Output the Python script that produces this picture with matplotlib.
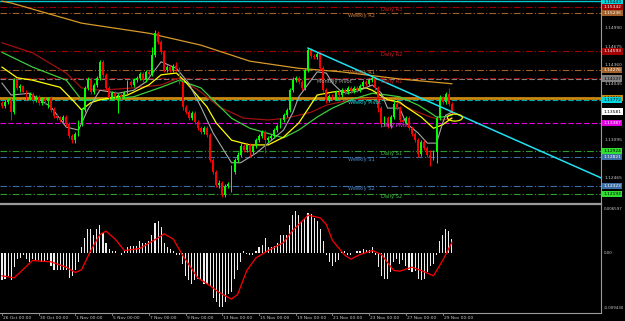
"""
EURUSD H4 chart with pivots, moving averages and MACD, MT4 style
saves out.png (625x321)
"""

import numpy as np
import matplotlib
matplotlib.use('Agg')
import matplotlib.pyplot as plt
from matplotlib.patches import Ellipse
from matplotlib.lines import Line2D

plt.rcParams['font.family'] = ['DejaVu Sans']

# ─── candles: bar 0 = 26 Oct 00:00, H4 ───
opens = [1.1373, 1.1367, 1.1374, 1.1378, 1.1357, 1.1411, 1.1398, 1.1401, 1.1391, 1.1381,
         1.1388, 1.1378, 1.1383, 1.1373, 1.1379, 1.1376, 1.1381, 1.1361, 1.1351, 1.1347,
         1.1344, 1.1349, 1.1337, 1.1317, 1.1310, 1.1320, 1.1337, 1.1361, 1.1398, 1.1411,
         1.1391, 1.1403, 1.1415, 1.1442, 1.1420, 1.1398, 1.1381, 1.1389, 1.1384, 1.1386,
         1.1383, 1.1389, 1.1408, 1.1403, 1.1411, 1.1415, 1.1421, 1.1411, 1.1425, 1.1421,
         1.1453, 1.1490, 1.1475, 1.1458, 1.1428, 1.1433, 1.1428, 1.1435, 1.1430, 1.1408,
         1.1366, 1.1357, 1.1347, 1.1356, 1.1341, 1.1330, 1.1324, 1.1330, 1.1319, 1.1277,
         1.1256, 1.1234, 1.1238, 1.1218, 1.1233, 1.1236, 1.1256, 1.1277, 1.1285, 1.1300,
         1.1293, 1.1302, 1.1290, 1.1300, 1.1310, 1.1317, 1.1324, 1.1310, 1.1314, 1.1317,
         1.1327, 1.1334, 1.1344, 1.1352, 1.1361, 1.1394, 1.1411, 1.1415, 1.1408, 1.1398,
         1.1428, 1.1462, 1.1452, 1.1450, 1.1455, 1.1431, 1.1394, 1.1378, 1.1384, 1.1381,
         1.1391, 1.1386, 1.1394, 1.1391, 1.1398, 1.1393, 1.1398, 1.1394, 1.1401, 1.1408,
         1.1405, 1.1411, 1.1415, 1.1398, 1.1364, 1.1337, 1.1347, 1.1334, 1.1349, 1.1371,
         1.1364, 1.1344, 1.1341, 1.1347, 1.1330, 1.1320, 1.1310, 1.1287, 1.1307, 1.1297,
         1.1285, 1.1280, 1.1290, 1.1347, 1.1381, 1.1374, 1.1388, 1.1371]
closes = [1.1367, 1.1374, 1.1378, 1.1357, 1.1411, 1.1398, 1.1401, 1.1391, 1.1381, 1.1388,
          1.1378, 1.1383, 1.1373, 1.1379, 1.1376, 1.1381, 1.1361, 1.1351, 1.1347, 1.1344,
          1.1349, 1.1337, 1.1317, 1.1310, 1.1320, 1.1337, 1.1361, 1.1398, 1.1411, 1.1391,
          1.1403, 1.1415, 1.1442, 1.1420, 1.1398, 1.1381, 1.1389, 1.1384, 1.1386, 1.1383,
          1.1389, 1.1408, 1.1403, 1.1411, 1.1415, 1.1421, 1.1411, 1.1425, 1.1421, 1.1453,
          1.1490, 1.1475, 1.1458, 1.1428, 1.1433, 1.1428, 1.1435, 1.1430, 1.1408, 1.1366,
          1.1357, 1.1347, 1.1356, 1.1341, 1.1330, 1.1324, 1.1330, 1.1319, 1.1277, 1.1256,
          1.1234, 1.1238, 1.1218, 1.1233, 1.1236, 1.1256, 1.1277, 1.1285, 1.1300, 1.1293,
          1.1302, 1.1290, 1.1300, 1.1310, 1.1317, 1.1324, 1.1310, 1.1314, 1.1317, 1.1327,
          1.1334, 1.1344, 1.1352, 1.1361, 1.1394, 1.1411, 1.1415, 1.1408, 1.1398, 1.1428,
          1.1462, 1.1452, 1.1450, 1.1455, 1.1431, 1.1394, 1.1378, 1.1384, 1.1381, 1.1391,
          1.1386, 1.1394, 1.1391, 1.1398, 1.1393, 1.1398, 1.1394, 1.1401, 1.1408, 1.1405,
          1.1411, 1.1415, 1.1398, 1.1364, 1.1337, 1.1347, 1.1334, 1.1349, 1.1371, 1.1364,
          1.1344, 1.1341, 1.1347, 1.1330, 1.1320, 1.1310, 1.1287, 1.1307, 1.1297, 1.1285,
          1.1280, 1.1290, 1.1347, 1.1381, 1.1374, 1.1388, 1.1371, 1.1357]
highs = [1.1376, 1.1378, 1.1381, 1.1381, 1.1415, 1.1415, 1.1405, 1.1403, 1.1394, 1.1391,
         1.1391, 1.1386, 1.1386, 1.1383, 1.1383, 1.1383, 1.1384, 1.1366, 1.1354, 1.1351,
         1.1352, 1.1352, 1.1341, 1.1320, 1.1324, 1.1344, 1.1364, 1.1401, 1.1416, 1.1415,
         1.1406, 1.1418, 1.1445, 1.1445, 1.1423, 1.1401, 1.1393, 1.1393, 1.1389, 1.1389,
         1.1393, 1.1411, 1.1411, 1.1415, 1.1418, 1.1425, 1.1425, 1.1428, 1.1428, 1.1467,
         1.1495, 1.1494, 1.1479, 1.1462, 1.1437, 1.1437, 1.1438, 1.1442, 1.1433, 1.1411,
         1.1369, 1.1361, 1.1359, 1.1359, 1.1344, 1.1334, 1.1334, 1.1334, 1.1322, 1.1280,
         1.1260, 1.1243, 1.1241, 1.1236, 1.1240, 1.1268, 1.1280, 1.1290, 1.1307, 1.1304,
         1.1305, 1.1305, 1.1304, 1.1314, 1.1320, 1.1327, 1.1327, 1.1317, 1.1320, 1.1330,
         1.1337, 1.1347, 1.1356, 1.1364, 1.1398, 1.1416, 1.1418, 1.1418, 1.1411, 1.1431,
         1.1465, 1.1465, 1.1455, 1.1458, 1.1458, 1.1435, 1.1398, 1.1388, 1.1388, 1.1394,
         1.1394, 1.1398, 1.1398, 1.1401, 1.1401, 1.1401, 1.1401, 1.1405, 1.1411, 1.1411,
         1.1415, 1.1418, 1.1418, 1.1401, 1.1367, 1.1351, 1.1351, 1.1352, 1.1378, 1.1374,
         1.1367, 1.1347, 1.1351, 1.1351, 1.1334, 1.1324, 1.1314, 1.1310, 1.1310, 1.1300,
         1.1293, 1.1293, 1.1351, 1.1386, 1.1384, 1.1391, 1.1398, 1.1374]
lows = [1.1364, 1.1364, 1.1371, 1.1344, 1.1354, 1.1394, 1.1391, 1.1388, 1.1378, 1.1378,
        1.1373, 1.1374, 1.1369, 1.1369, 1.1371, 1.1364, 1.1357, 1.1347, 1.1344, 1.1341,
        1.1341, 1.1334, 1.1314, 1.1305, 1.1305, 1.1317, 1.1334, 1.1357, 1.1394, 1.1388,
        1.1388, 1.1399, 1.1411, 1.1416, 1.1394, 1.1378, 1.1378, 1.1381, 1.1356, 1.1379,
        1.1379, 1.1386, 1.1399, 1.1399, 1.1408, 1.1411, 1.1408, 1.1408, 1.1418, 1.1418,
        1.1450, 1.1472, 1.1455, 1.1425, 1.1425, 1.1425, 1.1425, 1.1426, 1.1405, 1.1361,
        1.1354, 1.1344, 1.1344, 1.1337, 1.1327, 1.1320, 1.1320, 1.1315, 1.1273, 1.1253,
        1.1231, 1.1229, 1.1214, 1.1214, 1.1229, 1.1223, 1.1253, 1.1273, 1.1282, 1.1290,
        1.1290, 1.1282, 1.1287, 1.1297, 1.1307, 1.1314, 1.1288, 1.1307, 1.1310, 1.1314,
        1.1324, 1.1330, 1.1341, 1.1349, 1.1357, 1.1391, 1.1408, 1.1405, 1.1394, 1.1394,
        1.1425, 1.1448, 1.1447, 1.1447, 1.1428, 1.1391, 1.1373, 1.1374, 1.1378, 1.1378,
        1.1383, 1.1383, 1.1388, 1.1388, 1.1389, 1.1389, 1.1391, 1.1391, 1.1398, 1.1401,
        1.1401, 1.1408, 1.1394, 1.1357, 1.1332, 1.1334, 1.1330, 1.1330, 1.1346, 1.1361,
        1.1341, 1.1337, 1.1337, 1.1327, 1.1317, 1.1307, 1.1282, 1.1283, 1.1293, 1.1282,
        1.1266, 1.1277, 1.1272, 1.1344, 1.1371, 1.1371, 1.1367, 1.1354]

# ─── moving averages (read at selected bars) ───
ma_gray_bars = [0, 3, 9, 16, 21, 25, 28, 32, 38, 43, 47, 52, 57, 61, 65, 69, 75, 78, 83, 87,
                92, 95, 97, 101, 103, 106, 108, 111, 113, 117, 121, 124, 126, 130, 132, 136,
                139, 142, 144, 145, 147]
ma_gray = [1.1406, 1.1386, 1.1389, 1.1366, 1.1332, 1.1327, 1.1361, 1.1394, 1.1389, 1.1394,
           1.1408, 1.1442, 1.1431, 1.1406, 1.1366, 1.1322, 1.1272, 1.1272, 1.1288, 1.1305,
           1.1327, 1.1356, 1.1383, 1.1411, 1.1425, 1.1423, 1.1406, 1.1391, 1.1389, 1.1394,
           1.1403, 1.1389, 1.1364, 1.1364, 1.1339, 1.1322, 1.1305, 1.1305, 1.1339, 1.1352,
           1.1357]
ma_yellow_bars = [0, 5, 10, 19, 23, 26, 29, 32, 41, 48, 52, 57, 60, 67, 70, 75, 81, 87, 92,
                  97, 103, 108, 114, 119, 121, 126, 130, 132, 137, 141, 144, 147]
ma_yellow = [1.1433, 1.1415, 1.1411, 1.1399, 1.1378, 1.1361, 1.1373, 1.1378, 1.1386, 1.1403,
             1.1420, 1.1423, 1.1408, 1.1366, 1.1339, 1.1310, 1.1302, 1.1302, 1.1315, 1.1339,
             1.1386, 1.1391, 1.1394, 1.1398, 1.1394, 1.1378, 1.1374, 1.1366, 1.1349, 1.1330,
             1.1336, 1.1347]
ma_green_bars = [0, 10, 21, 26, 32, 43, 52, 58, 65, 75, 81, 92, 97, 103, 108, 114, 121, 126,
                 130, 136, 140, 142, 144, 147]
ma_green = [1.1458, 1.1433, 1.1411, 1.1378, 1.1378, 1.1383, 1.1399, 1.1411, 1.1398, 1.1347,
            1.1330, 1.1314, 1.1327, 1.1349, 1.1364, 1.1378, 1.1389, 1.1386, 1.1383, 1.1369,
            1.1356, 1.1349, 1.1349, 1.1352]
ma_red_bars = [0, 10, 21, 26, 32, 43, 52, 58, 65, 71, 79, 87, 93, 101, 106, 114, 123, 129,
               134, 140, 144, 147]
ma_red = [1.1474, 1.1457, 1.1423, 1.1398, 1.1394, 1.1398, 1.1403, 1.1415, 1.1391, 1.1366,
          1.1347, 1.1344, 1.1347, 1.1357, 1.1369, 1.1378, 1.1381, 1.1374, 1.1361, 1.1349,
          1.1344, 1.1347]
ma_orange_bars = [0, 3, 26, 48, 65, 81, 97, 111, 130, 147]
ma_orange = [1.1544, 1.1541, 1.1507, 1.1490, 1.1470, 1.1443, 1.1431, 1.1425, 1.1413, 1.1405]

# ─── pivot levels ───
pivot_names = ['Daily R3', 'Weekly R2', 'Daily R2', 'Weekly R1', 'Daily R1', 'Monthly Pivot',
               'Weekly Pivot', 'Daily Pivot', 'Daily S1', 'Weekly S1', 'Weekly S2', 'Daily S2']
pivot_prices = [1.15342, 1.15236, 1.14593, 1.14276, 1.14140, 1.14137,
                1.13772, 1.13387, 1.12924, 1.12821, 1.12323, 1.12193]
pivot_colors = ['#a00000', '#a0602a', '#a00000', '#a0602a', '#a00000', '#808080',
                '#00a8b0', '#e000e0', '#2e9a2e', '#3a6ea5', '#3a6ea5', '#2e9a2e']
label_colors = ['#d02020', '#c8783a', '#d02020', '#c8783a', '#d02020', '#a8a8a8',
                '#20d8e0', '#ff30ff', '#40c040', '#4a86c8', '#4a86c8', '#40c040']
pivot_label_bars = [124, 113, 124, 113, 124, 103, 113, 124, 124, 113, 113, 124]
pivot_box_text = ['1.15342', '1.15236', '1.14593', '1.14276', '', '1.14137',
                  '1.13772', '1.13387', '1.12924', '1.12821', '1.12323', '1.12193']

top_line_price = 1.15443
hline_price = 1.13815
bid_price = 1.13581

# trend line anchors and marked spot
trend_bars = [100, 196]
trend_prices = [1.1465, 1.1246]
mark_bar, mark_price = 148, 1.1348

# price scale labels
price_ticks = [1.14990, 1.14675, 1.14360, 1.14045, 1.13095, 1.12465]

# ─── MACD ───
macd_hist = [-0.0042, -0.0040, -0.0035, -0.0042, -0.0022, -0.0010, -0.0008, -0.0004, -0.0010, -0.0015,
             -0.0010, -0.0012, -0.0012, -0.0015, -0.0015, -0.0012, -0.0020, -0.0026, -0.0026, -0.0026,
             -0.0027, -0.0027, -0.0038, -0.0035, -0.0027, -0.0015, 0.0008, 0.0022, 0.0035, 0.0035,
             0.0026, 0.0035, 0.0042, 0.0030, 0.0015, 0.0005, 0.0003, 0.0003, 0.0000, -0.0003,
             0.0003, 0.0008, 0.0010, 0.0010, 0.0010, 0.0018, 0.0015, 0.0015, 0.0018, 0.0026,
             0.0045, 0.0048, 0.0038, 0.0015, 0.0008, 0.0005, 0.0003, -0.0003, -0.0004, -0.0018,
             -0.0035, -0.0042, -0.0048, -0.0042, -0.0040, -0.0042, -0.0048, -0.0048, -0.0050, -0.0068,
             -0.0075, -0.0082, -0.0082, -0.0075, -0.0063, -0.0060, -0.0040, -0.0026, -0.0015, 0.0002,
             -0.0002, -0.0004, -0.0003, 0.0003, 0.0008, 0.0012, 0.0022, 0.0008, 0.0008, 0.0010,
             0.0015, 0.0026, 0.0026, 0.0026, 0.0042, 0.0056, 0.0063, 0.0057, 0.0048, 0.0052,
             0.0060, 0.0058, 0.0052, 0.0048, 0.0035, 0.0018, -0.0003, -0.0015, -0.0020, -0.0015,
             -0.0012, 0.0002, 0.0002, -0.0004, -0.0003, 0.0000, 0.0003, 0.0003, 0.0006, 0.0004,
             0.0004, 0.0009, -0.0004, -0.0022, -0.0035, -0.0040, -0.0040, -0.0030, -0.0015, -0.0010,
             -0.0018, -0.0012, -0.0020, -0.0026, -0.0030, -0.0028, -0.0040, -0.0042, -0.0040, -0.0030,
             -0.0020, -0.0018, -0.0004, 0.0018, 0.0027, 0.0035, 0.0033, 0.0020]
sig_bars = [0, 4, 10, 16, 21, 24, 26, 29, 32, 34, 37, 40, 45, 51, 53, 56, 59, 64, 68, 71,
            75, 77, 80, 83, 87, 92, 95, 100, 104, 106, 108, 112, 114, 117, 121, 124, 128, 130,
            134, 137, 141, 144, 147]
sig_vals = [-0.0035, -0.0038, -0.0012, -0.0014, -0.0022, -0.0030, -0.0026, 0.0003, 0.0027, 0.0032,
            0.0020, 0.0003, 0.0006, 0.0022, 0.0028, 0.0020, -0.0004, -0.0038, -0.0050, -0.0060,
            -0.0070, -0.0063, -0.0027, -0.0008, 0.0003, 0.0015, 0.0033, 0.0056, 0.0052, 0.0042,
            0.0018, -0.0004, -0.0010, -0.0003, 0.0003, -0.0003, -0.0027, -0.0028, -0.0022, -0.0027,
            -0.0035, -0.0012, 0.0015]
macd_tick_vals = [0.0066, 0.0, -0.0084]
macd_tick_text = ['0.006597', '0.00', '-0.009430']

date_labels = ['26 Oct 00:00', '30 Oct 00:00', '1 Nov 00:00', '5 Nov 00:00', '7 Nov 00:00',
               '9 Nov 00:00', '13 Nov 00:00', '15 Nov 00:00', '19 Nov 00:00', '21 Nov 00:00',
               '23 Nov 00:00', '27 Nov 00:00', '29 Nov 00:00']
date_bars = [0, 12, 24, 36, 48, 60, 72, 84, 96, 108, 120, 132, 144]


# ─── layout ───
W, H = 625, 321
fig = plt.figure(figsize=(W / 100, H / 100), dpi=100, facecolor='black')
plot_w = 601 / W
ax = fig.add_axes([0, 1 - 203 / H, plot_w, 203 / H])
ax2 = fig.add_axes([0, 1 - 313 / H, plot_w, 109 / H])

xlim = (-0.65, 195.75)
for a in (ax, ax2):
    a.set_facecolor('black')
    a.set_xlim(*xlim)
    a.set_xticks([])
    a.set_yticks([])
    for s in a.spines.values():
        s.set_visible(False)

ax.set_ylim(1.12042, 1.15460)
ax2.set_ylim(-0.00908, 0.00728)

tiny = 3.2
lbl = 3.7

# pivot lines
for name, p, col, tc, lb in zip(pivot_names, pivot_prices, pivot_colors, label_colors,
                                pivot_label_bars):
    ls = (0, (5, 2)) if name in ('Weekly Pivot', 'Daily Pivot', 'Monthly Pivot') else (0, (6, 2, 1, 2))
    ax.axhline(p, color=col, lw=0.8, ls=ls, zorder=1)
    ax.text(lb, p - 0.00003, name, color=tc, fontsize=lbl, ha='left', va='top', zorder=6)

ax.axhline(top_line_price, color='#00c8d0', lw=1.0, zorder=1)
ax.axhline(hline_price, color='#c88a10', lw=2.0, zorder=1)

# moving averages
ax.plot(ma_orange_bars, ma_orange, color='#d89a28', lw=0.9, zorder=2)
ax.plot(ma_red_bars, ma_red, color='#a01010', lw=0.9, zorder=2)
ax.plot(ma_green_bars, ma_green, color='#3ccc3c', lw=0.9, zorder=2)
ax.plot(ma_yellow_bars, ma_yellow, color='#ffff00', lw=0.9, zorder=2)
ax.plot(ma_gray_bars, ma_gray, color='#a8a8a8', lw=0.8, zorder=2)

# candles
idx = np.arange(len(closes))
o = np.array(opens)
c = np.array(closes)
up = c >= o
colors = np.where(up, '#00ff00', '#ff0000')
ax.vlines(idx, lows, highs, colors=colors, lw=0.7, zorder=3)
body_lo = np.minimum(o, c)
body_h = np.maximum(np.abs(c - o), 0.00004)
ax.bar(idx, body_h, bottom=body_lo, width=0.62, color=colors, lw=0, zorder=4)

# trend line + mark
ax.plot(trend_bars, trend_prices, color='#20e0f0', lw=1.1, zorder=5, clip_on=True)
ax.add_patch(Ellipse((mark_bar, mark_price), 4.9, 0.00118, fill=False,
                     edgecolor='#f0f000', lw=0.9, zorder=6))

# price scale labels
ytr = ax.get_yaxis_transform()
for p in price_ticks:
    ax.text(1.006, p, f'{p:.5f}', transform=ytr, color='#c8c8c8', fontsize=tiny,
            ha='left', va='center', clip_on=False)

box_items = [(top_line_price - 0.00012, '1.15443', '#00d8e0', 'black'),
             (hline_price, '1.13815', '#c88a10', 'black'),
             (bid_price, '1.13581', 'white', 'black')]
for p, txt, col in zip(pivot_prices, pivot_box_text, pivot_colors):
    if txt:
        fc = '#00d8e0' if col == '#00a8b0' else col
        fg = 'black' if col in ('#00a8b0', '#808080', '#2e9a2e') else 'white'
        if col == '#2e9a2e':
            fc = '#30e030'
        box_items.append((p, txt, fc, fg))
for p, txt, fc, fg in box_items:
    ax.text(1.004, p, txt, transform=ytr, color=fg, fontsize=tiny, ha='left', va='center',
            clip_on=False, zorder=10,
            bbox=dict(boxstyle='square,pad=0.25', fc=fc, ec='none'))

# MACD panel
ax2.bar(idx, macd_hist, width=0.36, color='#eeeeee', lw=0, zorder=2)
ax2.plot(sig_bars, sig_vals, color='#ff0000', lw=0.9, zorder=3)
ytr2 = ax2.get_yaxis_transform()
for v, t in zip(macd_tick_vals, macd_tick_text):
    ax2.text(1.004, v, t, transform=ytr2, color='#c8c8c8', fontsize=2.9,
             ha='left', va='center', clip_on=False)

# frame lines
gray = '#9a9a9a'
fig.add_artist(Line2D([plot_w, plot_w], [1 - 313 / H, 1], color=gray, lw=0.8))
fig.add_artist(Line2D([0, plot_w], [1 - 203.5 / H, 1 - 203.5 / H], color=gray, lw=1.6))
fig.add_artist(Line2D([0, plot_w], [1 - 313 / H, 1 - 313 / H], color=gray, lw=0.8))

# date labels
xtr = ax2.get_xaxis_transform()
for b, t in zip(date_bars, date_labels):
    ax2.plot([b, b], [-0.005, -0.02], transform=xtr, color=gray, lw=0.6, clip_on=False)
    ax2.text(b + 0.3, -0.025, t, transform=xtr, color='#c8c8c8', fontsize=tiny,
             ha='left', va='top', clip_on=False)

fig.savefig('out.png', dpi=100, facecolor='black')
